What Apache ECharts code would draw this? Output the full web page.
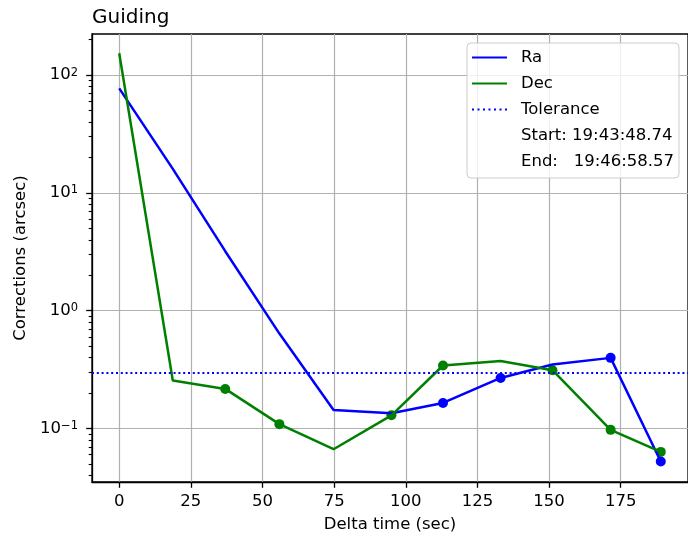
<!DOCTYPE html>
<html><head><meta charset="utf-8">
<script src="https://cdn.jsdelivr.net/npm/echarts@6/dist/echarts.min.js"></script>
<style>html,body{margin:0;padding:0;background:#fff}#c{width:688px;height:539px}</style>
</head><body><div id="c"></div>
<script>
const times = [0, 18.7, 37.0, 55.9, 74.8, 95.0, 113.0, 133.1, 151.2, 171.5, 189.0];
const raValues = [77, 16.0, 3.2, 0.64, 0.144, 0.135, 0.165, 0.269, 0.35, 0.398, 0.0525];
const decValues = [153, 0.256, 0.217, 0.109, 0.0668, 0.1295, 0.343, 0.375, 0.313, 0.0975, 0.0634];
const raMarkerTimes = [113.0, 133.1, 171.5, 189.0];
const raMarkerValues = [0.165, 0.269, 0.398, 0.0525];
const decMarkerTimes = [37.0, 55.9, 95.0, 113.0, 151.2, 171.5, 189.0];
const decMarkerValues = [0.217, 0.109, 0.1295, 0.343, 0.313, 0.0975, 0.0634];
const tolerance = 0.3;
const xTicks = [0, 25, 50, 75, 100, 125, 150, 175];
const yTicks = [0.1, 1, 10, 100];
const yMinorTicks = [0.04,0.05,0.06,0.07,0.08,0.09,0.2,0.3,0.4,0.5,0.6,0.7,0.8,0.9,2,3,4,5,6,7,8,9,20,30,40,50,60,70,80,90,200];
const startLabel = 'Start: 19:43:48.74';
const endLabel = 'End:   19:46:58.57';

const FONT = 'DejaVu Sans';
const pairs = (xs, ys) => xs.map((x, i) => [x, ys[i]]);
const dotPath = 'path://M0 0h2v2h-2zM5.5 0h2v2h-2zM11 0h2v2h-2zM16.5 0h2v2h-2zM22 0h2v2h-2zM27.5 0h2v2h-2zM33 0h2v2h-2z';

const chart = echarts.init(document.getElementById('c'), null, {renderer: 'canvas'});
chart.setOption({
  animation: false,
  backgroundColor: '#ffffff',
  title: {
    text: 'Guiding', left: 92, top: 8, padding: 0,
    textStyle: {fontFamily: FONT, fontSize: 20, fontWeight: 'normal', color: '#000'}
  },
  grid: {left: 92, top: 34, right: -2, bottom: 57, show: true, borderColor: '#000', borderWidth: 1.3, backgroundColor: 'transparent'},
  legend: {
    orient: 'vertical', left: 467, top: 43, selectedMode: false,
    itemWidth: 35, itemHeight: 2, itemGap: 9,
    padding: [6, 5, 8, 5],
    backgroundColor: 'rgba(255,255,255,0.8)', borderColor: '#cccccc', borderWidth: 1, borderRadius: 4,
    textStyle: {fontFamily: FONT, fontSize: 16.5, color: '#000', lineHeight: 16, padding: [0, 0, 0, 9]},
    data: [
      {name: 'Ra', icon: 'rect', itemStyle: {color: '#0000ff'}},
      {name: 'Dec', icon: 'rect', itemStyle: {color: '#008000'}},
      {name: 'Tolerance', icon: dotPath, itemStyle: {color: '#0000ff'}},
      {name: startLabel, icon: 'rect', itemStyle: {color: 'rgba(0,0,0,0)'}},
      {name: endLabel, icon: 'rect', itemStyle: {color: 'rgba(0,0,0,0)'}}
    ]
  },
  xAxis: {
    type: 'value', min: -9.5, max: 198.5,
    name: 'Delta time (sec)', nameLocation: 'middle', nameGap: 34,
    nameTextStyle: {fontFamily: FONT, fontSize: 16.5, color: '#000'},
    axisLine: {show: true, onZero: false, lineStyle: {color: '#000', width: 1.3}},
    axisTick: {show: true, customValues: xTicks, length: 5.8, lineStyle: {color: '#000', width: 1.3}},
    axisLabel: {customValues: xTicks, margin: 11, fontFamily: FONT, fontSize: 16.5, color: '#000'},
    splitLine: {show: true, lineStyle: {color: '#b0b0b0', width: 1.2}}
  },
  yAxis: [{
    type: 'log', logBase: 10, min: 0.0352, max: 223,
    name: 'Corrections (arcsec)', nameLocation: 'middle', nameGap: 54,
    nameTextStyle: {fontFamily: FONT, fontSize: 16.5, color: '#000'},
    axisLine: {show: true, onZero: false, lineStyle: {color: '#000', width: 1.3}},
    axisTick: {show: true, customValues: yTicks, length: 5.8, lineStyle: {color: '#000', width: 1.3}},
    axisLabel: {
      customValues: yTicks, margin: 14, color: '#000',
      formatter: v => {
        const e = Math.round(Math.log10(v));
        return '{b|10}{s|' + (e < 0 ? '\u2212' + (-e) : String(e)) + '}';
      },
      rich: {
        b: {fontFamily: FONT, fontSize: 16.5, color: '#000', lineHeight: 17, verticalAlign: 'bottom'},
        s: {fontFamily: FONT, fontSize: 11.5, color: '#000', lineHeight: 12, verticalAlign: 'top'}
      }
    },
    splitLine: {show: true, lineStyle: {color: '#b0b0b0', width: 1.2}}
  }, {
    type: 'log', logBase: 10, min: 0.0352, max: 223, position: 'left', offset: 0,
    axisLine: {show: false, onZero: false},
    axisTick: {show: true, customValues: yMinorTicks, length: 3.3, lineStyle: {color: '#000', width: 1.1}},
    axisLabel: {show: false},
    splitLine: {show: false}
  }],
  series: [
    {name: 'Ra', type: 'line', data: pairs(times, raValues), showSymbol: false, symbol: 'none',
     lineStyle: {color: '#0000ff', width: 2.5}, itemStyle: {color: '#0000ff'}},
    {name: 'RaMarks', type: 'scatter', data: pairs(raMarkerTimes, raMarkerValues), symbolSize: 10,
     itemStyle: {color: '#0000ff', opacity: 1}},
    {name: 'Dec', type: 'line', data: pairs(times, decValues), showSymbol: false, symbol: 'none',
     lineStyle: {color: '#008000', width: 2.5}, itemStyle: {color: '#008000'}},
    {name: 'DecMarks', type: 'scatter', data: pairs(decMarkerTimes, decMarkerValues), symbolSize: 10,
     itemStyle: {color: '#008000', opacity: 1}},
    {name: 'Tolerance', type: 'line', data: [], itemStyle: {color: '#0000ff'},
     markLine: {silent: true, symbol: ['none', 'none'], label: {show: false},
       lineStyle: {color: '#0000ff', type: [2, 2.8], width: 2},
       data: [{yAxis: tolerance}]}},
    {name: startLabel, type: 'line', data: []},
    {name: endLabel, type: 'line', data: []}
  ]
});
</script>
</body></html>
